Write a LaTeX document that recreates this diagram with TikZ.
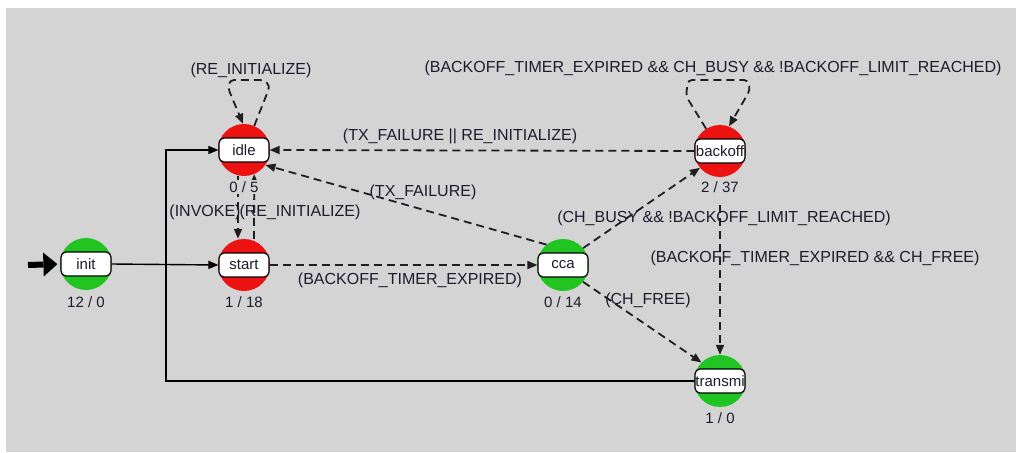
\documentclass[tikz,border=0pt]{standalone}
\usepackage{fontspec}
\setmainfont{Liberation Sans}
\usetikzlibrary{arrows.meta,positioning}

\definecolor{canvas}{RGB}{212,212,212}
\definecolor{redstate}{RGB}{236,18,18}
\definecolor{greenstate}{RGB}{34,196,34}
\definecolor{ink}{RGB}{28,28,44}

\tikzset{
  disc/.style={circle,inner sep=0pt,minimum size=52pt,fill=#1},
  statebox/.style={draw=black,line width=1.2pt,fill=white,rounded corners=5pt,
    minimum width=50pt,minimum height=24pt,inner sep=0pt,
    font=\fontsize{15}{17}\selectfont,text=ink},
  count/.style={font=\fontsize{15}{17}\selectfont,text=ink,fill=canvas,inner sep=1.5pt},
  cond/.style={font=\fontsize{16}{18}\selectfont,text=ink,inner sep=0pt},
  tip/.style={-{Triangle[length=10pt,width=8pt]}},
  solidedge/.style={tip,line width=1.4pt,black},
  guardedge/.style={tip,line width=1.8pt,black!88,dash pattern=on 8pt off 5pt},
  entryedge/.style={line width=6pt,shorten >=3pt,
    -{Triangle[length=14pt 0 0,width=24pt 0 0,line width=0pt]}},
}

\begin{document}
\begin{tikzpicture}[x=1pt,y=-1pt]
  \useasboundingbox (0,0) rectangle (1016,452);
  \fill[white] (0,0) rectangle (1016,452);
  \fill[canvas] (6,8) rectangle (1016,452);

  % states: coloured disc and rounded name box
  \node[disc=greenstate] (init-c)    at (86,264)  {};
  \node[disc=redstate]   (idle-c)    at (244,150) {};
  \node[disc=redstate]   (start-c)   at (244,265) {};
  \node[disc=greenstate] (cca-c)     at (563,265) {};
  \node[disc=redstate]   (backoff-c) at (720,151) {};
  \node[disc=greenstate] (transmi-c) at (720,381) {};

  \node[statebox] (init)    at (86,264)  {init};
  \node[statebox] (idle)    at (244,150) {idle};
  \node[statebox] (start)   at (244,265) {start};
  \node[statebox] (cca)     at (563,265) {cca};
  \node[statebox] (backoff) at (720,151) {backoff};
  \node[statebox] (transmi) at (720,381) {transmi};

  % initial transition
  \coordinate (entry) at (28,265);
  \draw[entryedge] (entry) -- (init.west);

  % unconditional transitions
  \draw[solidedge] (init.east) -- (start.west);
  \coordinate (return-bend) at (166,381);
  \draw[solidedge] (transmi.west) -- (return-bend) |- (idle.west);

  % conditional transitions
  \draw[guardedge,rounded corners=4pt] (idle-c.67) -- (270,86) -- (264,80)
        -- (230,80) -- (228,88) -- ([xshift=-1pt]idle-c.north);
  \draw[guardedge] ([xshift=-6pt]idle-c.south) -- ([xshift=-6pt]start-c.north);
  \draw[guardedge] ([xshift=10pt]start-c.north) -- (idle-c.-67);
  \draw[guardedge] (start.east) -- (cca.west);
  \draw[guardedge] (cca-c.129) -- (idle-c.-35);
  \draw[guardedge] (backoff.west) -- (idle.east);
  \draw[guardedge,rounded corners=4pt] (backoff-c.122) -- (686,96) -- (688,80)
        -- (748,80) -- (750,90) -- (backoff-c.70);
  \draw[guardedge] (cca-c.40) -- (backoff-c.-140);
  \coordinate (backoff-out) at (720,205);
  \draw[guardedge] (backoff-out) -- (transmi-c.north);
  \draw[guardedge] (cca-c.-40) -- (transmi-c.135);

  % visit counts below each state
  \node[count] (init-n)    at (86,302)  {12 / 0};
  \node[count] (idle-n)    at (244,187) {0 / 5};
  \node[count] (start-n)   at (244,302) {1 / 18};
  \node[count] (cca-n)     at (563,302) {0 / 14};
  \node[count] (backoff-n) at (720,187) {2 / 37};
  \node[count] (transmi-n) at (720,418) {1 / 0};

  % transition conditions
  \node[cond] (c-reinit)  at (251,70)  {(RE\_INITIALIZE)};
  \node[cond] (c-retry)   at (713,68)  {(BACKOFF\_TIMER\_EXPIRED \&\& CH\_BUSY \&\& !BACKOFF\_LIMIT\_REACHED)};
  \node[cond] (c-abort)   at (460,136) {(TX\_FAILURE || RE\_INITIALIZE)};
  \node[cond] (c-fail)    at (423,192) {(TX\_FAILURE)};
  \node[cond] (c-invoke)  at (205,212) {(INVOKE)};
  \node[cond] (c-reinit2) at (300,212) {(RE\_INITIALIZE)};
  \node[cond] (c-busy)    at (724,218) {(CH\_BUSY \&\& !BACKOFF\_LIMIT\_REACHED)};
  \node[cond] (c-expired) at (815,258) {(BACKOFF\_TIMER\_EXPIRED \&\& CH\_FREE)};
  \node[cond] (c-timer)   at (410,280) {(BACKOFF\_TIMER\_EXPIRED)};
  \node[cond] (c-free)    at (648,300) {(CH\_FREE)};
\end{tikzpicture}
\end{document}
